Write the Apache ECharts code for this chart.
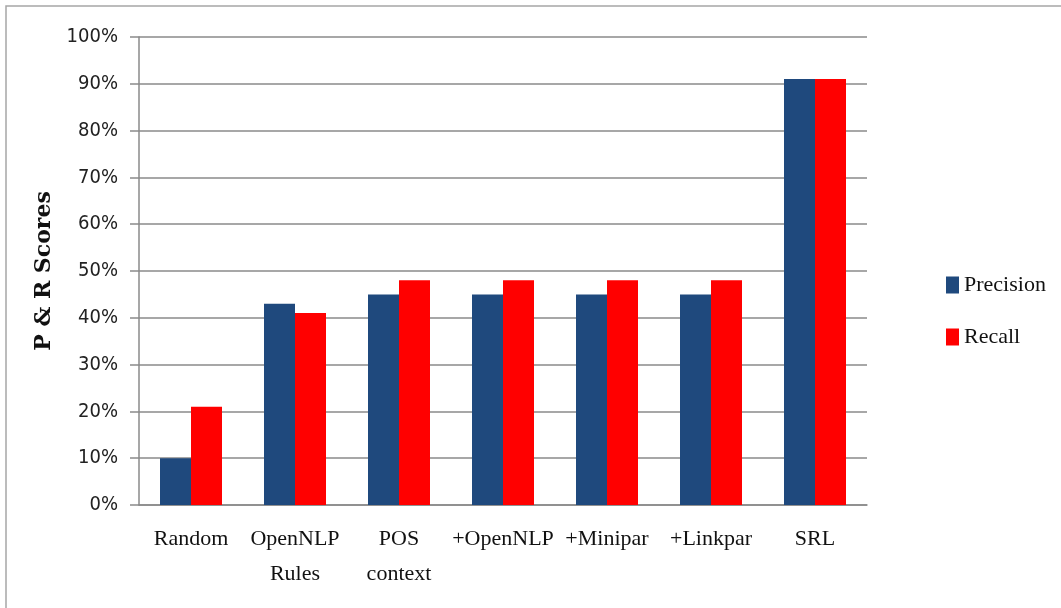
<!DOCTYPE html>
<html>
<head>
<meta charset="utf-8">
<script src="https://cdn.jsdelivr.net/npm/echarts@6/dist/echarts.min.js"></script>
<style>
html,body{margin:0;padding:0;background:#fff;}
#main{width:1061px;height:608px;}
</style>
</head>
<body>
<div id="main"></div>
<script>
var categories = ['Random', 'OpenNLP\nRules', 'POS\ncontext', '+OpenNLP', '+Minipar', '+Linkpar', 'SRL'];
var precision = [10, 43, 45, 45, 45, 45, 91];
var recall = [21, 41, 48, 48, 48, 48, 91];
var seriesNames = ['Precision', 'Recall'];

var chart = echarts.init(document.getElementById('main'));

var option = {
	backgroundColor: '#fff',
	animation: false,
	graphic: [{
		type: 'rect',
		shape: {x: 6, y: 6, width: 1100, height: 700},
		style: {fill: 'none', stroke: '#a6a6a6', lineWidth: 1.5}
	}],
	grid: {left: 139, right: 194, top: 37, bottom: 103},
	legend: {
		data: seriesNames,
		orient: 'vertical',
		left: 941,
		top: 269,
		itemWidth: 13,
		itemHeight: 17,
		itemGap: 30,
		icon: 'rect',
		textStyle: {fontFamily: 'Liberation Serif', fontSize: 22, color: '#111', lineHeight: 22}
	},
	xAxis: {
		type: 'category',
		data: categories,
		axisLine: {lineStyle: {color: '#8a8a8a', width: 1.5}},
		axisTick: {length: 8, lineStyle: {color: '#8a8a8a', width: 1.5}},
		axisLabel: {
			interval: 0,
			margin: 17,
			fontFamily: 'Liberation Serif',
			fontSize: 22,
			lineHeight: 35,
			color: '#111'
		}
	},
	yAxis: {
		type: 'value',
		min: 0,
		max: 100,
		interval: 10,
		name: 'P & R Scores',
		nameLocation: 'middle',
		nameGap: 81,
		nameRotate: 90,
		nameTextStyle: {fontFamily: 'DejaVu Serif', fontWeight: 'bold', fontSize: 22, color: '#111'},
		axisLine: {show: true, lineStyle: {color: '#8a8a8a', width: 1.5}},
		axisTick: {show: true, length: 9, lineStyle: {color: '#8a8a8a', width: 1.5}},
		splitLine: {lineStyle: {color: '#8a8a8a', width: 1.5}},
		axisLabel: {
			formatter: '{value}%',
			margin: 21,
			fontFamily: 'DejaVu Sans Condensed, DejaVu Sans',
			fontSize: 20,
			color: '#222'
		}
	},
	series: [{
		name: seriesNames[0],
		type: 'bar',
		data: precision,
		barWidth: 31,
		barGap: '0%',
		itemStyle: {color: '#1f497d'}
	}, {
		name: seriesNames[1],
		type: 'bar',
		data: recall,
		barWidth: 31,
		barGap: '0%',
		itemStyle: {color: '#ff0000'}
	}]
};
chart.setOption(option);
</script>
</body>
</html>
